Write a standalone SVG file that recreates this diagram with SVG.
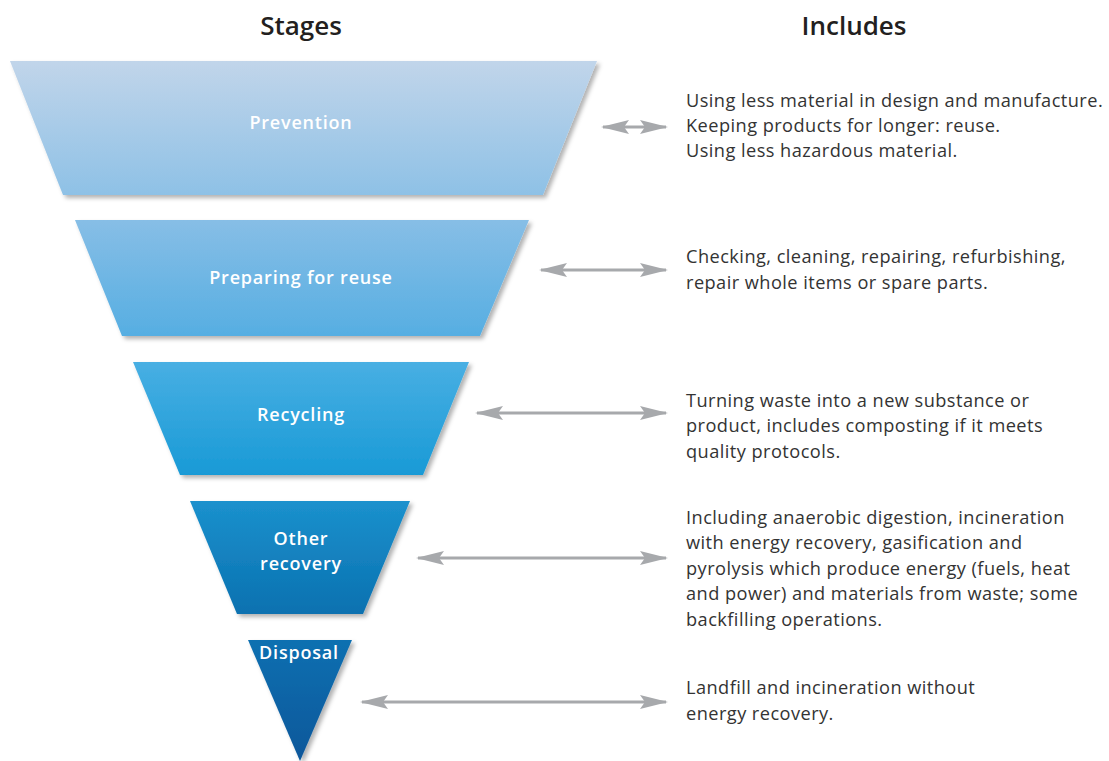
<svg xmlns="http://www.w3.org/2000/svg" width="1109" height="761" viewBox="0 0 1109 761">
<style>
.hdr{font-family:"Open Sans","Liberation Sans",sans-serif;font-weight:600;font-size:26px;fill:#231f20;text-anchor:middle}
.lbl{font-family:"Open Sans","Liberation Sans",sans-serif;font-weight:600;font-size:18px;letter-spacing:0.8px;fill:#ffffff;text-anchor:middle}
.inc{font-family:"Open Sans","Liberation Sans",sans-serif;font-size:18.2px;letter-spacing:0.45px;fill:#333333}
.arr{stroke:#a7a9ac;stroke-width:3;fill:none;marker-start:url(#ah);marker-end:url(#ah)}
</style>
<defs>
<marker id="ah" viewBox="0 0 28 14" refX="26" refY="7" markerWidth="28" markerHeight="14" markerUnits="userSpaceOnUse" orient="auto-start-reverse">
<path d="M0,0 L28,7 L0,14 L5,7 Z" fill="#a7a9ac"/>
</marker>
<linearGradient id="g1" x1="0" y1="0" x2="0" y2="1"><stop offset="0" stop-color="#c1d5ea"/><stop offset="1" stop-color="#8ec1e6"/></linearGradient>
<linearGradient id="g2" x1="0" y1="0" x2="0" y2="1"><stop offset="0" stop-color="#87bee6"/><stop offset="1" stop-color="#56aee2"/></linearGradient>
<linearGradient id="g3" x1="0" y1="0" x2="0" y2="1"><stop offset="0" stop-color="#48afe3"/><stop offset="1" stop-color="#199ad6"/></linearGradient>
<linearGradient id="g4" x1="0" y1="0" x2="0" y2="1"><stop offset="0" stop-color="#1b91cd"/><stop offset="1" stop-color="#0a71b0"/></linearGradient>
<linearGradient id="g5" x1="0" y1="0" x2="0" y2="1"><stop offset="0" stop-color="#1170b1"/><stop offset="1" stop-color="#09579a"/></linearGradient>
<filter id="sh" x="-5%" y="-5%" width="115%" height="115%">
<feDropShadow dx="3" dy="3" stdDeviation="2" flood-color="#000" flood-opacity="0.3"/>
</filter>
</defs>
<rect width="1109" height="761" fill="#ffffff"/>
<text class="hdr" x="301" y="35">Stages</text>
<text class="hdr" x="854" y="35">Includes</text>

<g id="prevention">
<polygon points="10,61 597,61 543,195 63,195" fill="url(#g1)" filter="url(#sh)"/>
<text class="lbl" x="301" y="129">Prevention</text>
</g>
<g id="preparing">
<polygon points="75,220 529,220 480,336 122,336" fill="url(#g2)" filter="url(#sh)"/>
<text class="lbl" x="301" y="284">Preparing for reuse</text>
</g>
<g id="recycling">
<polygon points="133,362 469,362 423,475 180,475" fill="url(#g3)" filter="url(#sh)"/>
<text class="lbl" x="301" y="421">Recycling</text>
</g>
<g id="other">
<polygon points="190,501 410,501 363,614 237,614" fill="url(#g4)" filter="url(#sh)"/>
<text class="lbl" x="301" y="545">Other</text>
<text class="lbl" x="301" y="570">recovery</text>
</g>
<g id="disposal">
<polygon points="248,640 352,640 300,761" fill="url(#g5)" filter="url(#sh)"/>
<text class="lbl" x="299" y="659">Disposal</text>
</g>

<g id="connectors">
<line class="arr" x1="603" y1="127" x2="666" y2="127"/>
<line class="arr" x1="541" y1="270" x2="666" y2="270"/>
<line class="arr" x1="477" y1="413" x2="666" y2="413"/>
<line class="arr" x1="418" y1="558" x2="666" y2="558"/>
<line class="arr" x1="362" y1="702" x2="666" y2="702"/>
</g>

<g id="includes">
<text class="inc" x="686" y="107">Using less material in design and manufacture.</text>
<text class="inc" x="686" y="132">Keeping products for longer: reuse.</text>
<text class="inc" x="686" y="157">Using less hazardous material.</text>
<text class="inc" x="686" y="263">Checking, cleaning, repairing, refurbishing,</text>
<text class="inc" x="686" y="289">repair whole items or spare parts.</text>
<text class="inc" x="686" y="407">Turning waste into a new substance or</text>
<text class="inc" x="686" y="432">product, includes composting if it meets</text>
<text class="inc" x="686" y="458">quality protocols.</text>
<text class="inc" x="686" y="524">Including anaerobic digestion, incineration</text>
<text class="inc" x="686" y="549">with energy recovery, gasification and</text>
<text class="inc" x="686" y="575">pyrolysis which produce energy (fuels, heat</text>
<text class="inc" x="686" y="600">and power) and materials from waste; some</text>
<text class="inc" x="686" y="626">backfilling operations.</text>
<text class="inc" x="686" y="694">Landfill and incineration without</text>
<text class="inc" x="686" y="720">energy recovery.</text>
</g>
</svg>
